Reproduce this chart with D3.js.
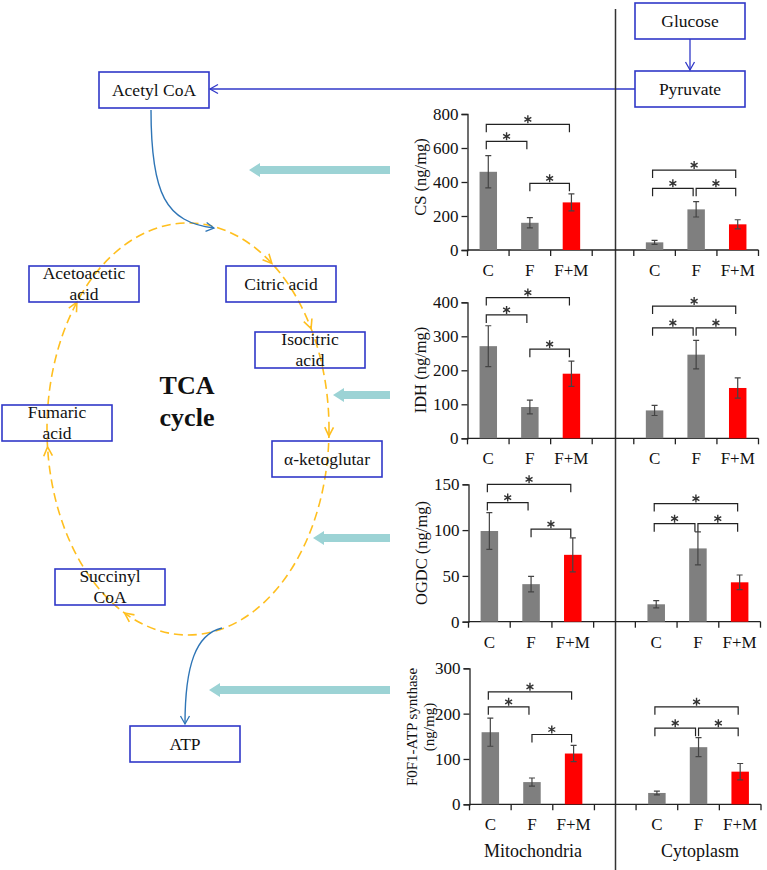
<!DOCTYPE html>
<html><head><meta charset="utf-8">
<script src="https://cdn.jsdelivr.net/npm/d3@7"></script>
<style>body{margin:0;background:#fff}svg{display:block;font-family:"Liberation Serif","Times New Roman",serif}</style>
</head><body><svg id="fig" width="767" height="870"></svg>
<script>
// ---------- DATA ----------
const categories = ["C", "F", "F+M"];
const compartments = ["Mitochondria", "Cytoplasm"];
const enzymeLabels = [["CS (ng/mg)"], ["IDH (ng/mg)"], ["OGDC (ng/mg)"], ["F0F1-ATP synthase", "(ng/mg)"]];
const yTicks = [[0, 200, 400, 600, 800], [0, 100, 200, 300, 400], [0, 50, 100, 150], [0, 100, 200, 300]];
const mitoMeans = [[460, 160, 280], [271, 92, 190], [99, 41, 73], [159, 49, 112]];
const mitoErrs  = [[95, 30, 50], [60, 20, 37], [20, 8.5, 18.5], [31, 9, 18]];
const cytoMeans = [[45, 239, 151], [82, 246, 148], [19, 80, 43], [25, 126, 72]];
const cytoErrs  = [[12, 45, 27], [15, 42, 30], [4, 18, 8], [4, 21, 18]];
// significance brackets: [fromIndex, toIndex, level]
const mitoSig = [[[0, 2, 739], [0, 1, 639], [1, 2, 392]], [[0, 2, 414], [0, 1, 363], [1, 2, 262]],
                 [[0, 2, 150], [0, 1, 130], [1, 2, 101]], [[0, 2, 248], [0, 1, 215], [1, 2, 154]]];
const cytoSig = [[[0, 2, 470], [0, 1, 363], [1, 2, 363]], [[0, 2, 389], [0, 1, 325], [1, 2, 325]],
                 [[0, 2, 129], [0, 1, 107], [1, 2, 107]], [[0, 2, 215], [0, 1, 168], [1, 2, 168]]];
const pathwayNodes = ["Glucose", "Pyruvate", "Acetyl CoA", "Citric acid", "Isocitric|acid", "α-ketoglutar",
                      "Succinyl|CoA", "Fumaric|acid", "Acetoacetic|acid", "ATP"];
const cycleTitle = ["TCA", "cycle"];

// ---------- LAYOUT ----------
const svg = d3.select("#fig");
svg.append("rect").attr("width", 767).attr("height", 870).attr("fill", "#fff");
const BOX = "#3038c8", CURVE = "#2e75b6", ORANGE = "#ffbf1f", CYAN = "#9cd3d5";
const defs = svg.append("defs");
function marker(id, color) {
  defs.append("marker").attr("id", id).attr("viewBox", "-10 -6 12 12").attr("refX", 0).attr("refY", 0)
    .attr("markerWidth", 12).attr("markerHeight", 12).attr("markerUnits", "userSpaceOnUse").attr("orient", "auto")
    .append("path").attr("d", "M-8,-4.5 L0,0 L-8,4.5").attr("fill", "none").attr("stroke", color).attr("stroke-width", 1.3);
}
marker("arrB", BOX); marker("arrC", CURVE);

// TCA ellipse
const E = {cx: 188, cy: 429, rx: 141, ry: 206};
svg.append("ellipse").attr("cx", E.cx).attr("cy", E.cy).attr("rx", E.rx).attr("ry", E.ry)
  .attr("fill", "none").attr("stroke", ORANGE).attr("stroke-width", 1.6).attr("stroke-dasharray", "9,5");
[36.5, 60.8, 92, 206.7, 265, 308].forEach(deg => {
  const t = deg * Math.PI / 180;
  const px = E.cx + E.rx * Math.sin(t), py = E.cy - E.ry * Math.cos(t);
  let dx = E.rx * Math.cos(t), dy = E.ry * Math.sin(t);
  const L = Math.hypot(dx, dy); dx /= L; dy /= L;
  const a = 0.45, len = 10;
  const p1 = [px - len * (dx * Math.cos(a) - dy * Math.sin(a)), py - len * (dy * Math.cos(a) + dx * Math.sin(a))];
  const p2 = [px - len * (dx * Math.cos(-a) - dy * Math.sin(-a)), py - len * (dy * Math.cos(-a) + dx * Math.sin(-a))];
  svg.append("path").attr("d", `M${p1}L${px},${py}L${p2}`).attr("fill", "none").attr("stroke", ORANGE).attr("stroke-width", 1.6);
});

// node boxes
const boxPos = [[635, 3], [635, 71], [99, 72], [226, 266], [255, 332], [272, 441], [55, 569], [2, 405], [29, 266], [130, 726]];
const BW = 110, BH = 36;
pathwayNodes.forEach((n, i) => {
  const [x, y] = boxPos[i];
  svg.append("rect").attr("x", x).attr("y", y).attr("width", BW).attr("height", BH)
    .attr("fill", "none").attr("stroke", BOX).attr("stroke-width", 1.6);
  const lines = n.split("|");
  const t = svg.append("text").attr("text-anchor", "middle").attr("font-size", 17.5).attr("fill", "#111");
  if (lines.length === 1) t.attr("x", x + BW / 2).attr("y", y + BH / 2 + 6).text(lines[0]);
  else lines.forEach((l, j) => t.append("tspan").attr("x", x + BW / 2).attr("y", y + 13 + j * 21).text(l));
});
cycleTitle.forEach((s, i) => svg.append("text").attr("x", 187).attr("y", 394 + i * 32).attr("text-anchor", "middle")
  .attr("font-size", 26).attr("font-weight", "bold").attr("fill", "#111").text(s));

// connectors
svg.append("line").attr("x1", 690).attr("y1", 39).attr("x2", 690).attr("y2", 70).attr("stroke", BOX).attr("stroke-width", 1.3).attr("marker-end", "url(#arrB)");
svg.append("line").attr("x1", 635).attr("y1", 89).attr("x2", 210).attr("y2", 89).attr("stroke", BOX).attr("stroke-width", 1.3).attr("marker-end", "url(#arrB)");
svg.append("path").attr("d", "M151,110 C151,195 166,222 214,228").attr("fill", "none").attr("stroke", CURVE).attr("stroke-width", 1.4).attr("marker-end", "url(#arrC)");
svg.append("path").attr("d", "M222,628 C196,634 185,665 185,724").attr("fill", "none").attr("stroke", CURVE).attr("stroke-width", 1.4).attr("marker-end", "url(#arrC)");

// cyan arrows
[[249, 170], [333, 395], [313, 538], [209, 690]].forEach(([x, y]) => {
  const x2 = 390;
  svg.append("path").attr("d", `M${x},${y} L${x + 11},${y - 7} L${x + 11},${y - 4} L${x2},${y - 4} L${x2},${y + 4} L${x + 11},${y + 4} L${x + 11},${y + 7} Z`)
    .attr("fill", CYAN);
});

// divider
svg.append("line").attr("x1", 615.5).attr("y1", 9).attr("x2", 615.5).attr("y2", 870).attr("stroke", "#333").attr("stroke-width", 1.5);

// asterisk glyph (drawn, 6 spokes)
function star(g, x, y) {
  const r = 4;
  let d = "";
  [90, 30, 150].forEach(a => {
    const t = a * Math.PI / 180, ux = r * Math.cos(t), uy = r * Math.sin(t);
    d += `M${x - ux},${y - uy}L${x + ux},${y + uy}`;
  });
  g.append("path").attr("d", d).attr("stroke", "#333").attr("stroke-width", 1.4).attr("fill", "none");
}

// ---------- BAR PANELS ----------
const panelY = [[250, 114], [438.3, 302.3], [621.7, 484.3], [804.3, 668.3]];
const panelX = [[467.5, 758.5], [467.5, 758.5], [468.5, 760.5], [469.5, 761]];
const slots = ["m0", "m1", "m2", "gap", "c0", "c1", "c2"];
const labelX = [420, 420, 421, 412];
const labelY = [177, 370, 553, 727];
const labelSize = [16.5, 16.5, 16.5, 15];

yTicks.forEach((ticks, p) => {
  const g = svg.append("g");
  const x = d3.scaleBand().domain(slots).range(panelX[p]).padding(0);
  const y = d3.scaleLinear().domain([0, d3.max(ticks)]).range(panelY[p]);
  const bw = x.bandwidth() * 0.42;
  const cx = s => x(s) + x.bandwidth() / 2;

  // y axis
  const ya = g.append("g").attr("transform", `translate(${panelX[p][0]},0)`)
    .call(d3.axisLeft(y).tickValues(ticks).tickSizeOuter(0).tickSize(6).tickPadding(3));
  ya.attr("font-family", null);
  ya.select(".domain").attr("stroke", "#222").attr("stroke-width", 1.3);
  ya.selectAll(".tick line").attr("stroke", "#222").attr("stroke-width", 1.3);
  ya.selectAll(".tick text").attr("font-family", "Liberation Serif").attr("font-size", 17).attr("fill", "#111");

  // x axis
  const y0 = y(0);
  g.append("line").attr("x1", panelX[p][0]).attr("x2", panelX[p][1]).attr("y1", y0).attr("y2", y0).attr("stroke", "#222").attr("stroke-width", 1.3);
  slots.concat(["end"]).forEach(s => {
    const xx = s === "end" ? panelX[p][1] : x(s);
    g.append("line").attr("x1", xx).attr("x2", xx).attr("y1", y0).attr("y2", y0 + 6).attr("stroke", "#222").attr("stroke-width", 1.3);
  });

  const groups = [["m", mitoMeans[p], mitoErrs[p], mitoSig[p]], ["c", cytoMeans[p], cytoErrs[p], cytoSig[p]]];
  groups.forEach(([pre, means, errs, sig]) => {
    categories.forEach((c, i) => {
      const s = pre + i, xc = cx(s);
      g.append("rect").attr("x", xc - bw / 2).attr("y", y(means[i])).attr("width", bw).attr("height", y0 - y(means[i]))
        .attr("fill", i === 2 ? "#ff0000" : "#7f7f7f");
      const hi = y(means[i] + errs[i]), lo = y(means[i] - errs[i]);
      g.append("path").attr("d", `M${xc},${hi}V${lo}M${xc - 3},${hi}H${xc + 3}M${xc - 3},${lo}H${xc + 3}`)
        .attr("stroke", "#444").attr("stroke-width", 1.2).attr("fill", "none");
      g.append("text").attr("x", xc).attr("y", y0 + 26).attr("text-anchor", "middle").attr("font-size", 17).attr("fill", "#111").text(c);
    });
    sig.forEach(([a, b, lev]) => {
      const xa = cx(pre + a) + (a === 1 ? 0 : -2);
      const xb = cx(pre + b) - (b === 1 ? 3 : 2);
      const yy = y(lev);
      g.append("path").attr("d", `M${xa},${yy + 8}V${yy}H${xb}V${yy + 8}`).attr("fill", "none").attr("stroke", "#222").attr("stroke-width", 1.2);
      star(g, (xa + xb) / 2, yy - 5);
    });
  });

  // y label
  enzymeLabels[p].forEach((l, j) => {
    const lx = labelX[p] + j * 17;
    g.append("text").attr("transform", `translate(${lx},${labelY[p]}) rotate(-90)`).attr("text-anchor", "middle")
      .attr("dy", "0.35em").attr("font-size", labelSize[p]).attr("fill", "#111").text(l);
  });
});

// compartment labels
[[533, compartments[0]], [700, compartments[1]]].forEach(([x, t]) =>
  svg.append("text").attr("x", x).attr("y", 857).attr("text-anchor", "middle").attr("font-size", 18).attr("fill", "#111").text(t));
</script></body></html>
